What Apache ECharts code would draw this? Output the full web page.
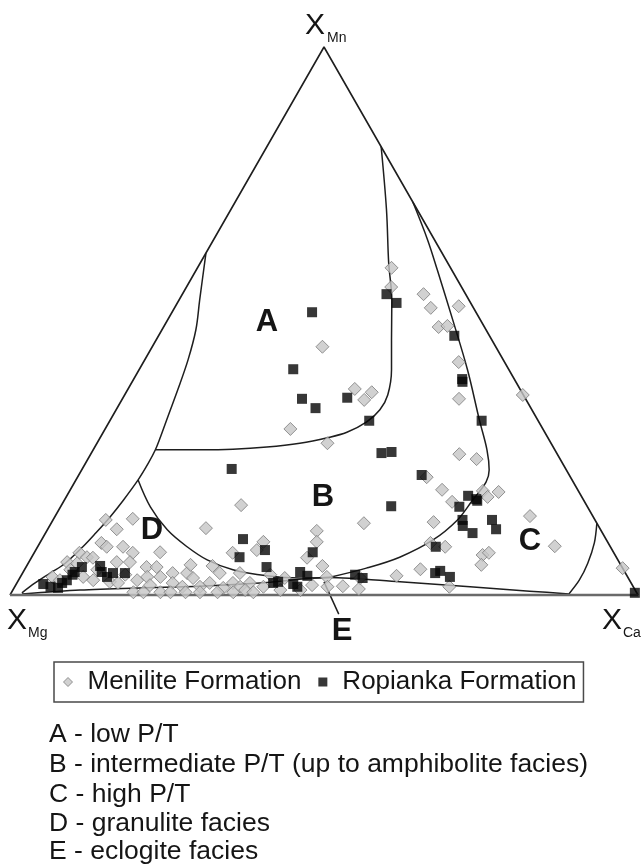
<!DOCTYPE html>
<html><head><meta charset="utf-8">
<script src="https://cdn.jsdelivr.net/npm/echarts@6/dist/echarts.min.js"></script>
<style>html,body{margin:0;padding:0;background:#fff}#c{width:641px;height:867px}</style>
</head><body><div id="c"></div>
<script>
// Garnet compositions, each pair is [XMn %, XCa %]; XMg = 100 - XMn - XCa
const menilite = [[59.7,30.9],[56.2,32.6],[54.9,38.4],[52.4,40.8],[52.7,45.1],[48.9,43.8],[49.1,45.1],[42.5,50.2],[35.8,53.6],[45.3,27.1],[37.6,36.1],[35.6,38.6],[37.0,39.1],[30.3,29.5],[27.7,36.7],[36.5,63.4],[25.7,58.7],[24.8,61.9],[21.5,55.6],[19.2,59.2],[19.0,65.8],[18.8,68.4],[17.0,61.9],[17.9,67.1],[13.1,49.8],[13.3,60.8],[14.4,75.6],[11.7,43.0],[9.7,44.0],[6.8,43.9],[9.5,62.2],[8.8,64.9],[7.3,71.6],[7.7,72.4],[5.5,72.3],[8.9,82.3],[5.3,47.1],[3.3,48.8],[1.5,49.8],[1.6,52.2],[1.1,55.0],[3.5,59.8],[4.7,63.0],[1.5,69.2],[4.9,95.1],[16.4,28.6],[12.2,25.1],[13.7,8.4],[13.9,12.6],[12.0,11.0],[9.5,9.8],[8.8,11.0],[8.8,13.6],[7.7,15.7],[7.8,20.0],[7.7,7.2],[6.9,8.8],[7.7,31.6],[9.7,35.5],[8.2,35.2],[6.0,6.1],[5.8,7.8],[6.8,9.8],[6.0,14.0],[6.0,16.1],[5.1,19.2],[5.1,20.8],[4.0,23.9],[4.0,26.2],[5.3,29.6],[4.0,31.4],[4.0,34.6],[2.2,37.1],[1.5,39.6],[3.3,5.1],[3.3,10.0],[2.7,11.9],[2.4,14.7],[2.2,16.1],[2.7,18.9],[3.3,20.2],[3.3,22.3],[2.2,24.8],[1.5,26.7],[3.1,27.6],[1.5,29.5],[2.2,30.7],[1.3,33.3],[2.2,34.4],[1.5,35.9],[0.5,19.4],[0.5,21.0],[0.5,23.7],[0.5,25.3],[0.5,27.7],[0.5,30.0],[0.5,32.8],[0.5,35.3],[0.9,37.0],[0.5,38.5],[3.1,54.2],[0.9,42.6],[0.9,45.8],[1.8,47.2],[3.7,39.6],[4.6,11.6],[4.6,7.3],[2.7,6.6],[3.7,16.5],[1.8,21.4],[5.5,26.0],[3.1,42.2]];
const ropianka = [[54.9,32.5],[53.3,34.9],[51.6,22.3],[41.2,24.5],[35.8,28.6],[34.1,31.6],[36.0,35.7],[31.8,41.3],[47.3,47.1],[39.4,52.3],[38.9,52.6],[31.8,59.2],[25.9,46.2],[26.1,47.7],[23.0,23.8],[21.9,54.6],[18.1,63.9],[17.5,65.5],[17.2,65.8],[16.2,52.6],[16.1,63.5],[13.7,65.2],[12.6,65.8],[11.3,68.0],[13.7,69.9],[12.0,71.4],[7.8,44.3],[8.8,63.4],[10.2,32.0],[6.9,33.1],[8.2,36.5],[5.1,38.3],[4.2,44.1],[3.5,45.6],[3.7,53.1],[3.1,54.6],[4.0,65.7],[4.4,66.3],[3.3,68.4],[0.4,99.3],[2.2,40.8],[2.4,41.5],[2.0,44.1],[1.5,45.0],[2.0,4.3],[1.5,5.7],[1.3,7.0],[2.2,7.2],[2.7,7.7],[3.7,8.1],[4.2,8.2],[5.1,8.9],[5.3,11.7],[4.2,12.5],[3.3,13.8],[4.0,14.4],[4.0,16.3]];

// Field boundaries, same [XMn %, XCa %] pairs
const triangleSides = [[0,0],[100,0],[0,100]];
const baseSide = [[0,0],[0,100]];
const boundaryAB = [[81.8,18.2],[70.3,24.8],[60.6,30.0],[53.8,33.9],[46.5,37.5],[41.1,40.2],[36.5,41.9],[33.8,42.0],[31.6,41.0],[29.7,38.8],[28.7,36.2],[27.7,32.3],[27.0,27.4],[26.6,22.2],[26.5,17.0],[26.5,9.9]];
const boundaryOuterLeft = [[62.4,0],[53.8,3.3],[48.4,5.4],[42.9,6.9],[37.4,8.0],[32.9,8.8],[28.5,9.6],[26.5,9.9],[24.1,10.0],[21.0,9.9],[17.3,9.4],[14.2,8.8],[11.3,8.0],[8.8,7.2],[5.8,5.9],[4.0,4.4],[2.2,2.9],[0.4,1.7]];
const boundaryBD = [[21.0,9.9],[16.1,14.3],[11.9,19.1],[8.8,23.8],[6.4,28.2],[4.6,33.2],[3.5,39.2],[3.1,44.6],[3.2,49.2]];
const boundaryBC = [[71.7,28.3],[64.8,34.1],[59.3,38.4],[50.2,45.4],[41.1,52.3],[31.9,58.8],[26.5,62.7],[22.8,64.9],[20.6,65.5],[17.3,65.0],[13.7,64.4],[10.0,62.3],[6.9,58.6],[4.9,54.3],[3.2,49.2]];
const boundaryE = [[0.2,1.8],[0.9,10.7],[1.3,20.1],[1.6,29.4],[2.2,38.7],[3.2,49.2],[2.4,60.9],[1.5,72.5],[0.7,82.4],[0.2,88.9]];
const boundaryCright = [[0.2,88.9],[2.7,89.3],[5.8,89.1],[9.5,88.3],[13.1,86.9]];
const leaderE = [[2.4,48.8],[-3.5,54.1]];

const legendNames = ['Menilite Formation', 'Ropianka Formation'];
const faciesNotes = ['A - low P/T', 'B - intermediate P/T (up to amphibolite facies)', 'C - high P/T', 'D - granulite facies', 'E - eclogite facies'];

// ternary -> cartesian (x along XMg->XCa base, y = XMn height)
function toXY(p) { return [p[1] + p[0] / 2, p[0]]; }

const FONT = '"Liberation Sans", Arial, Helvetica, sans-serif';
const INK = '#151515';

function boundary(data, smooth, extra) {
  return Object.assign({
    type: 'line', data: data.map(toXY), symbol: 'none', smooth: smooth,
    lineStyle: { color: '#1e1e1e', width: 1.5 }, silent: true, z: 2, clip: false,
    animation: false, legendHoverLink: false
  }, extra || {});
}

const chart = echarts.init(document.getElementById('c'), null, { renderer: 'canvas' });

const graphics = [];
function txt(x, y, text, size, weight, align) {
  graphics.push({ type: 'text', x: x, y: y, z: 50, silent: true,
    style: { text: text, font: (weight || 'normal') + ' ' + size + 'px ' + FONT, fill: INK,
             align: align || 'center', verticalAlign: 'middle' } });
}
// vertex labels
txt(315, 26, 'X', 30); txt(327, 38, 'Mn', 14, 'normal', 'left');
txt(17, 621, 'X', 30); txt(28, 633, 'Mg', 14, 'normal', 'left');
txt(612, 621, 'X', 30); txt(623, 633, 'Ca', 14, 'normal', 'left');
// field labels
txt(267, 322, 'A', 31, 'bold');
txt(323, 497, 'B', 31, 'bold');
txt(530, 541, 'C', 31, 'bold');
txt(152, 530, 'D', 31, 'bold');
txt(342, 631, 'E', 31, 'bold');
// explanation list
const listY = [735, 765, 795, 824, 852];
faciesNotes.forEach((t, i) => txt(49, listY[i], t, 26.5, 'normal', 'left'));

chart.setOption({
  animation: false,
  backgroundColor: '#ffffff',
  grid: { left: 10, right: 3, top: 47, bottom: 272, containLabel: false },
  xAxis: { type: 'value', min: 0, max: 100, show: false },
  yAxis: { type: 'value', min: 0, max: 100, show: false },
  legend: {
    left: 54, top: 662,
    padding: [7, 7, 7, 9],
    itemWidth: 9, itemHeight: 9, itemGap: 17,
    borderColor: '#4a4a4a', borderWidth: 1.5,
    selectedMode: false,
    formatter: function (name) { return '{t|' + name + '}'; },
    textStyle: {
      fontSize: 26, fontFamily: FONT, color: INK,
      rich: { t: { fontSize: 26, fontFamily: FONT, color: INK, padding: [0, 0, 0, 10] } }
    },
    data: [
      { name: legendNames[0], icon: 'diamond', itemStyle: { color: '#c6c6c6', borderColor: '#7c7c7c', borderWidth: 1 } },
      { name: legendNames[1], icon: 'rect', itemStyle: { color: '#050505', borderWidth: 0 } }
    ]
  },
  graphic: graphics,
  series: [
    boundary(triangleSides, false, { lineStyle: { color: '#1e1e1e', width: 1.6 } }),
    boundary(baseSide, false, { lineStyle: { color: '#6a6a6a', width: 2.6 }, z: 3 }),
    boundary(boundaryAB, 0.35),
    boundary(boundaryOuterLeft, 0.35),
    boundary(boundaryBD, 0.35),
    boundary(boundaryBC, 0.35),
    boundary(boundaryE, 0.3),
    boundary(boundaryCright, 0.3),
    boundary(leaderE, false),
    {
      name: legendNames[0], type: 'scatter', symbol: 'diamond', symbolSize: 13,
      data: menilite.map(toXY), z: 5,
      itemStyle: { color: '#c6c6c6', borderColor: '#7c7c7c', borderWidth: 1 }
    },
    {
      name: legendNames[1], type: 'scatter', symbol: 'rect', symbolSize: 10,
      data: ropianka.map(toXY), z: 6,
      itemStyle: { color: '#050505', borderColor: '#000', borderWidth: 0 }
    }
  ]
});
</script>
</body></html>
